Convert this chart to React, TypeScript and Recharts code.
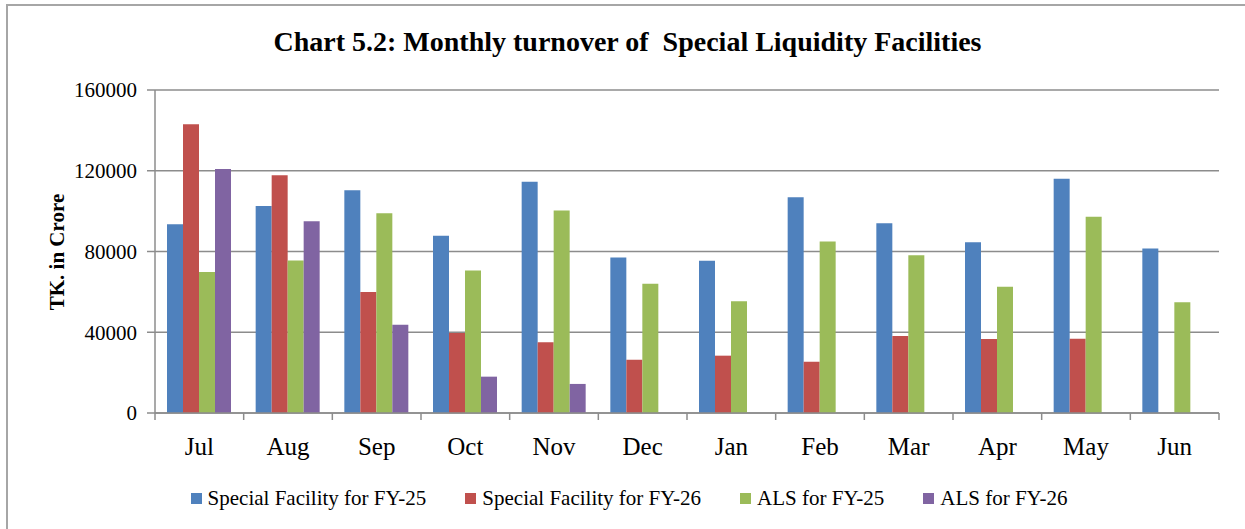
import { BarChart, Bar, XAxis, YAxis, CartesianGrid, Legend } from "recharts"

const months = ["Jul", "Aug", "Sep", "Oct", "Nov", "Dec", "Jan", "Feb", "Mar", "Apr", "May", "Jun"]
const sf25 = [93500, 102600, 110400, 87800, 114600, 77000, 75400, 106900, 94000, 84600, 116000, 81500]
const sf26 = [143000, 117800, 60000, 39600, 35100, 26400, 28400, 25400, 38100, 36600, 36800, null]
const als25 = [69800, 75500, 99000, 70600, 100300, 64000, 55300, 84900, 78200, 62500, 97200, 54800]
const als26 = [120900, 95000, 43700, 18000, 14400, null, null, null, null, null, null, null]
const yTicks = [0, 40000, 80000, 120000, 160000]

const series = [
  { key: "sf25", name: "Special Facility for FY-25", color: "#4F81BD" },
  { key: "sf26", name: "Special Facility for FY-26", color: "#C0504D" },
  { key: "als25", name: "ALS for FY-25", color: "#9BBB59" },
  { key: "als26", name: "ALS for FY-26", color: "#8064A2" },
]

const data = months.map((m, i) => ({
  month: m,
  sf25: sf25[i],
  sf26: sf26[i],
  als25: als25[i],
  als26: als26[i],
}))

const W = 1245
const H = 529
const MARGIN = { top: 90, right: 26, left: 60, bottom: 0 }
const Y_AXIS_W = 95
const BAND = (W - MARGIN.left - MARGIN.right - Y_AXIS_W) / months.length
const FONT = "'Liberation Serif', 'Times New Roman', serif"
const AXIS = "#8c8c8c"

function MonthTick(props: any) {
  const { x, y, payload, index } = props
  const half = BAND / 2
  return (
    <g>
      <line x1={x - half} x2={x - half} y1={y} y2={y + 7} stroke={AXIS} strokeWidth={1.5} />
      {index === months.length - 1 && (
        <line x1={x + half} x2={x + half} y1={y} y2={y + 7} stroke={AXIS} strokeWidth={1.5} />
      )}
      <text x={x} y={y + 42} textAnchor="middle" fontFamily={FONT} fontSize={25} fill="#000">
        {payload.value}
      </text>
    </g>
  )
}

function LegendBox() {
  return (
    <div
      style={{
        height: 66,
        paddingTop: 4,
        boxSizing: "border-box",
        display: "flex",
        justifyContent: "center",
        paddingLeft: 18,
        fontFamily: FONT,
        fontSize: 21,
        color: "#000",
      }}
    >
      {series.map((s) => (
        <div key={s.key} style={{ display: "flex", alignItems: "center", marginRight: 39, lineHeight: "22px" }}>
          <span style={{ width: 11, height: 11, background: s.color, marginRight: 6, display: "inline-block" }} />
          <span style={{ fontFamily: FONT, fontSize: 21 }}>{s.name}</span>
        </div>
      ))}
    </div>
  )
}

export default function App() {
  return (
    <div style={{ position: "absolute", left: 0, top: 0, width: W, height: H, background: "#fff", overflow: "hidden" }}>
      <div
        style={{
          position: "absolute",
          left: 6,
          top: 4,
          width: W,
          height: H,
          borderLeft: "2px solid #a6a6a6",
          borderTop: "2px solid #a6a6a6",
        }}
      />
      <div
        style={{
          position: "absolute",
          left: 0,
          width: W,
          top: 26,
          textAlign: "center",
          fontFamily: FONT,
          fontWeight: "bold",
          fontSize: 28,
          whiteSpace: "pre",
          paddingLeft: 10,
          boxSizing: "border-box",
        }}
      >
        Chart 5.2: Monthly turnover of  Special Liquidity Facilities
      </div>
      <div
        style={{
          position: "absolute",
          left: 57,
          top: 252,
          transform: "translate(-50%, -50%) rotate(-90deg)",
          fontFamily: FONT,
          fontWeight: "bold",
          fontSize: 21,
          whiteSpace: "nowrap",
        }}
      >
        TK. in Crore
      </div>
      <BarChart width={W} height={H} data={data} margin={MARGIN} barCategoryGap={12} barGap={0}>
        <CartesianGrid horizontal={true} vertical={false} stroke={AXIS} strokeWidth={1.5} />
        <XAxis
          dataKey="month"
          stroke={AXIS}
          strokeWidth={1.5}
          tickLine={false}
          tickSize={0}
          tickMargin={0}
          height={50}
          interval={0}
          tick={<MonthTick />}
        />
        <YAxis
          domain={[0, 160000]}
          ticks={yTicks}
          width={Y_AXIS_W}
          stroke={AXIS}
          strokeWidth={1.5}
          tickSize={8}
          tickMargin={10}
          tick={{ fontFamily: FONT, fontSize: 21, fill: "#000" }}
        />
        <Legend verticalAlign="bottom" content={<LegendBox />} />
        {series.map((s) => (
          <Bar key={s.key} dataKey={s.key} name={s.name} fill={s.color} isAnimationActive={false} />
        ))}
      </BarChart>
    </div>
  )
}
